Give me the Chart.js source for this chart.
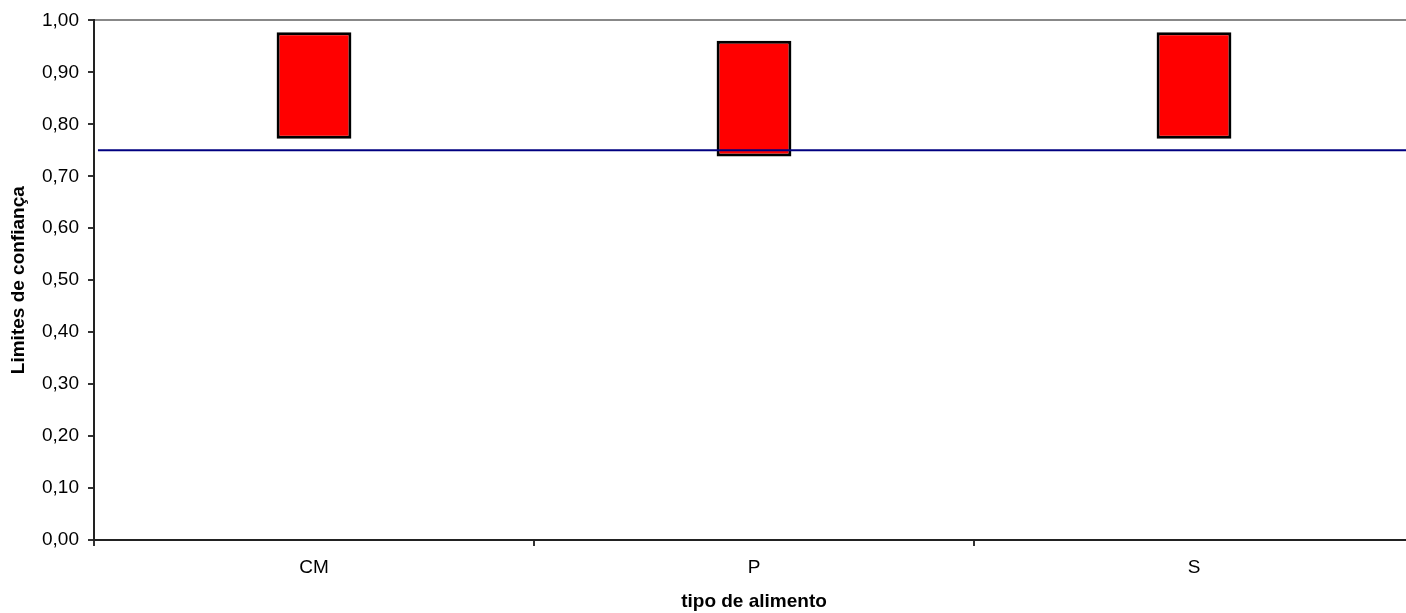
<!DOCTYPE html>
<html>
<head>
<meta charset="utf-8">
<script src="https://cdn.jsdelivr.net/npm/chart.js@4/dist/chart.umd.min.js"></script>
<style>
  html, body { margin: 0; padding: 0; background: #fff; overflow: hidden; }
  #wrap { width: 1420px; height: 613px; position: relative; }
</style>
</head>
<body>
<div id="wrap"><canvas id="grafico"></canvas></div>
<script>
// Tipos de alimento e limites de confiança (inferior / superior)
const categorias = ['CM', 'P', 'S'];
const limiteInferior = [0.772, 0.738, 0.772];
const limiteSuperior = [0.977, 0.961, 0.977];
// Valor de referência (linha horizontal)
const valorReferencia = [0.75];
const ticksY = [0, 0.1, 0.2, 0.3, 0.4, 0.5, 0.6, 0.7, 0.8, 0.9, 1.0];

const FONTE = '"Liberation Sans", Arial, sans-serif';
Chart.defaults.font.family = FONTE;
Chart.defaults.color = '#000';

const intervalos = categorias.map((c, i) => [limiteInferior[i], limiteSuperior[i]]);
const linhaRef = [
  { x: 0.003, y: valorReferencia[0] },
  { x: 1, y: valorReferencia[0] }
];

new Chart(document.getElementById('grafico'), {
  type: 'bar',
  data: {
    labels: categorias,
    datasets: [
      {
        type: 'line',
        data: linhaRef,
        xAxisID: 'xRef',
        borderColor: '#000080',
        borderWidth: 2,
        pointRadius: 0,
        fill: false,
        order: 0
      },
      {
        data: intervalos,
        backgroundColor: '#ff0000',
        borderColor: '#000000',
        borderWidth: 3,
        borderSkipped: false,
        grouped: false,
        categoryPercentage: 1.0,
        barPercentage: 0.17,
        order: 1
      }
    ]
  },
  options: {
    responsive: true,
    maintainAspectRatio: false,
    animation: false,
    layout: { padding: { left: 0, top: 19, right: 6, bottom: 0 } },
    plugins: { legend: { display: false }, tooltip: { enabled: false } },
    scales: {
      x: {
        type: 'category',
        position: 'bottom',
        offset: true,
        grid: {
          display: true,
          drawOnChartArea: false,
          offset: true,
          tickLength: 6,
          color: '#333',
          lineWidth: 2
        },
        border: { display: true, color: '#222', width: 2 },
        ticks: { font: { size: 19 }, padding: 10, color: '#000', maxRotation: 0 },
        title: {
          display: true,
          text: 'tipo de alimento',
          font: { size: 19, weight: 'bold' },
          padding: { top: 8, bottom: 0 },
          color: '#000'
        },
        afterFit: (s) => { s.height = 73; }
      },
      xRef: {
        type: 'linear',
        position: 'top',
        min: 0,
        max: 1,
        offset: false,
        display: true,
        grid: { display: false, offset: false },
        ticks: { display: false },
        border: { display: true, color: '#888', width: 2 },
        afterFit: (s) => { s.height = 0; }
      },
      y: {
        min: 0,
        max: 1,
        afterBuildTicks: (s) => { s.ticks = ticksY.map(v => ({ value: v })); },
        grid: {
          display: true,
          drawOnChartArea: false,
          tickLength: 6,
          color: '#333',
          lineWidth: 2
        },
        border: { display: true, color: '#222', width: 2 },
        ticks: {
          font: { size: 19 },
          padding: 9,
          color: '#000',
          callback: (v) => Number(v).toFixed(2).replace('.', ',')
        },
        title: {
          display: true,
          text: 'Limites de confiança',
          font: { size: 19, weight: 'bold' },
          padding: { top: 7, bottom: 0 },
          color: '#000'
        },
        afterFit: (s) => { s.width = 94; }
      }
    }
  }
});
</script>
</body>
</html>
